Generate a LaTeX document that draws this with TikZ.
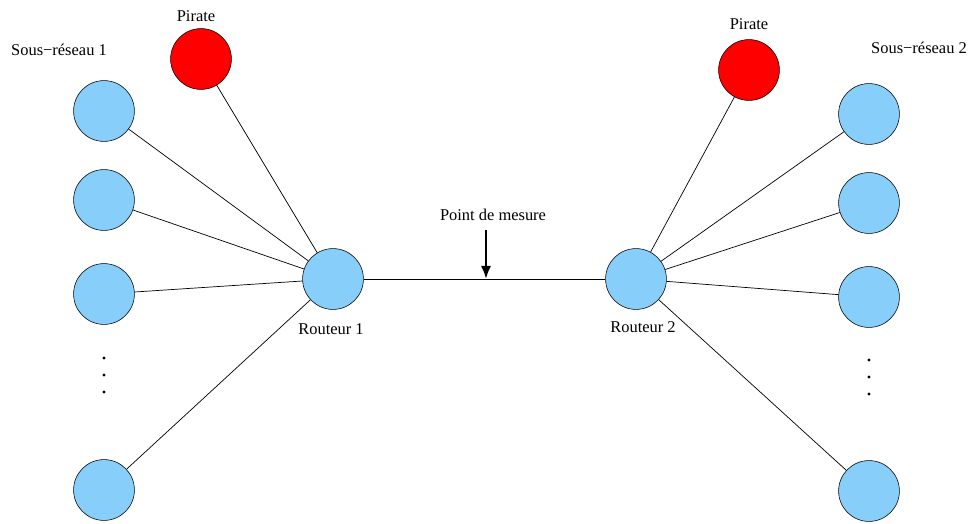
\documentclass[tikz,border=0pt]{standalone}
\usepackage{fontspec}
\setmainfont{Liberation Serif}
\usetikzlibrary{arrows.meta}
\definecolor{hostblue}{RGB}{135,206,250}
\definecolor{pirred}{RGB}{255,0,0}

\begin{document}
\begin{tikzpicture}[x=0.025cm,y=-0.025cm,
        every node/.style={font=\fontsize{11.7}{13}\selectfont},
        host/.style={circle,draw=black,fill=hostblue,minimum size=1.52cm,inner sep=0pt},
        pirate/.style={circle,draw=black,fill=pirred,minimum size=1.52cm,inner sep=0pt},
        dot/.style={circle,fill=black,inner sep=0pt,minimum size=2.2pt},
        link/.style={draw=black,line width=0.5pt},
        arrow/.style={-{Latex[length=3.3mm,width=2.6mm]},line width=1.7pt}]
        \useasboundingbox (0,0) rectangle (970,524);
        % sous-reseau 1
        \node[host] (h1) at (104,111) {};
        \node[host] (h2) at (104,200) {};
        \node[host] (h3) at (104,294) {};
        \node[host] (h4) at (104,490) {};
        \node[dot] (d1) at (104,358) {};
        \node[dot] (d2) at (104,375) {};
        \node[dot] (d3) at (104,392) {};
        \node[pirate] (p1) at (201,59) {};
        \node (lp1) at (196,16) {Pirate};
        \node (ls1) at (59,50) {Sous−réseau 1};
        % routeurs
        \node[host] (r1) at (333,279) {};
        \node (lr1) at (331,329) {Routeur 1};
        \node[host] (r2) at (636,279) {};
        \node (lr2) at (643,327) {Routeur 2};
        % sous-reseau 2
        \node[host] (k1) at (869,114) {};
        \node[host] (k2) at (869,203) {};
        \node[host] (k3) at (869,297) {};
        \node[host] (k4) at (869,491) {};
        \node[dot] (e1) at (869,360) {};
        \node[dot] (e2) at (869,377) {};
        \node[dot] (e3) at (869,394) {};
        \node[pirate] (p2) at (749,70) {};
        \node (lp2) at (749,24) {Pirate};
        \node (ls2) at (919,48) {Sous−réseau 2};
        % point de mesure
        \node (lm) at (493,215) {Point de mesure};
        \coordinate (m0) at (486,230);
        \coordinate (m1) at (486,279);
        % liens
        \draw[link] (h1) -- (r1);
        \draw[link] (h2) -- (r1);
        \draw[link] (h3) -- (r1);
        \draw[link] (h4) -- (r1);
        \draw[link] (p1) -- (r1);
        \draw[link] (r1) -- (r2);
        \draw[link] (k1) -- (r2);
        \draw[link] (k2) -- (r2);
        \draw[link] (k3) -- (r2);
        \draw[link] (k4) -- (r2);
        \draw[link] (p2) -- (r2);
        \draw[arrow] (m0) -- (m1);
      \end{tikzpicture}
\end{document}
